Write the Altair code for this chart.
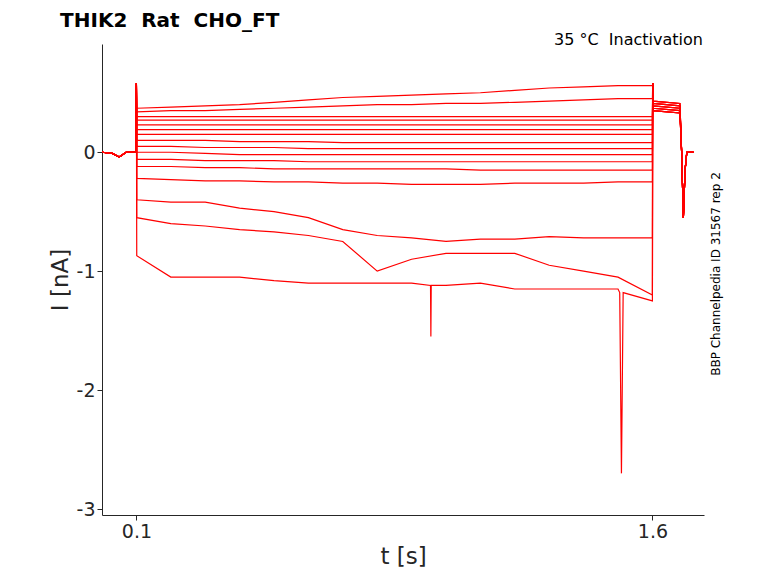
import altair as alt
import pandas as pd

T = [0.1, 0.2, 0.3, 0.4, 0.5, 0.6, 0.7, 0.8, 0.9, 1.0, 1.1, 1.2, 1.3, 1.4, 1.5, 1.6]
sweeps = [
    [0.37,0.38,0.39,0.40,0.42,0.44,0.46,0.47,0.48,0.49,0.50,0.52,0.54,0.55,0.56,0.56],
    [0.34,0.35,0.35,0.36,0.37,0.38,0.39,0.40,0.40,0.41,0.41,0.42,0.43,0.44,0.45,0.45],
    [0.30]*16, [0.27]*16, [0.23]*16, [0.19]*16, [0.15]*16,
    [0.10,0.10,0.10,0.09,0.09,0.09,0.08,0.08,0.08,0.08,0.08,0.08,0.08,0.08,0.08,0.08],
    [0.05,0.05,0.04,0.04,0.04,0.03,0.03,0.03,0.03,0.03,0.03,0.03,0.03,0.03,0.03,0.03],
    [0.0,0.0,-0.01,-0.02,-0.02,-0.02,-0.02,-0.02,-0.02,-0.02,-0.02,-0.02,-0.02,-0.02,-0.02,-0.02],
    [-0.06,-0.06,-0.07,-0.07,-0.07,-0.08,-0.08,-0.08,-0.08,-0.08,-0.08,-0.08,-0.08,-0.08,-0.08,-0.08],
    [-0.12,-0.12,-0.13,-0.13,-0.14,-0.14,-0.14,-0.14,-0.14,-0.14,-0.15,-0.15,-0.15,-0.15,-0.15,-0.15],
    [-0.22,-0.23,-0.24,-0.24,-0.25,-0.25,-0.26,-0.26,-0.27,-0.27,-0.27,-0.26,-0.26,-0.26,-0.25,-0.25],
    [-0.40,-0.42,-0.42,-0.47,-0.50,-0.55,-0.65,-0.70,-0.72,-0.75,-0.73,-0.73,-0.71,-0.72,-0.72,-0.72],
    [-0.55,-0.60,-0.62,-0.65,-0.67,-0.70,-0.75,-1.00,-0.90,-0.85,-0.85,-0.85,-0.95,-1.00,-1.05,-1.20],
    [-0.87,-1.05,-1.05,-1.05,-1.08,-1.10,-1.10,-1.10,-1.10,-1.12,-1.10,-1.15,-1.15,-1.15,-1.15,-1.25],
]
spike_t = [0.955, 0.956, 0.957, 1.505, 1.51, 1.515]
spike_i = [-1.12, -1.55, -1.12, -1.18, -2.7, -1.18]
pre_t = [0.0, 0.03, 0.05, 0.07, 0.099]
pre_i = [0.0, -0.01, -0.04, 0.0, 0.0]
post_t = [1.601, 1.602, 1.68, 1.685, 1.69, 1.695, 1.7, 1.72]
post_i = [0.58, 0.35, 0.33, 0.0, -0.55, -0.15, 0.0, 0.0]

rows = []
for k, vals in enumerate(sweeps):
    pts = list(zip(pre_t, pre_i)) + [(0.1, 0.58)]
    pts += list(zip([t + 0.001 if t == 0.1 else t for t in T], vals))
    if k == len(sweeps) - 1:
        pts += list(zip(spike_t, spike_i))
    pts = sorted(pts, key=lambda p: p[0])
    for j, (t, p) in enumerate(zip(post_t, post_i)):
        pts.append((t, p + 0.02 * (k % 5) if j in (1, 2) else p))
    for o, (t, i) in enumerate(pts):
        rows.append({"s": k, "o": o, "t": t, "i": i})
df = pd.DataFrame(rows)

lines = alt.Chart(df).mark_line(color="#ff0000", strokeWidth=1.2, clip=True).encode(
    x=alt.X("t:Q", scale=alt.Scale(domain=[0.0, 1.75], nice=False),
            axis=alt.Axis(values=[0.1, 1.6], format=".1f", title="t [s]", grid=False)),
    y=alt.Y("i:Q", scale=alt.Scale(domain=[-3.05, 0.91], nice=False),
            axis=alt.Axis(values=[0, -1, -2, -3], labelExpr="toString(datum.value)",
                          title="I [nA]", grid=False)),
    detail="s:N", order="o:Q")

note = alt.Chart(pd.DataFrame({"x": [1.747], "y": [0.94], "txt": ["35 °C\u00a0\u00a0Inactivation"]})).mark_text(
    align="right", fontSize=16, font="DejaVu Sans", color="black").encode(x="x:Q", y="y:Q", text="txt:N")
side = alt.Chart(pd.DataFrame({"txt": ["BBP Channelpedia ID 31567 rep 2"]})).mark_text(
    angle=270, fontSize=12, font="DejaVu Sans", color="black").encode(
    x=alt.value(614), y=alt.value(230), text="txt:N")

chart = (lines + note + side).properties(
    width=602, height=471,
    autosize=alt.AutoSizeParams(type="none"),
    padding={"left": 94, "top": 36, "right": 60, "bottom": 60},
    title=alt.TitleParams("THIK2\u00a0\u00a0Rat\u00a0\u00a0CHO_FT", anchor="start", fontSize=20,
                          font="DejaVu Sans", fontWeight="bold", offset=1, dx=11),
).configure_axis(
    labelFont="DejaVu Sans", titleFont="DejaVu Sans", labelFontSize=19, titleFontSize=23,
    titleFontWeight="normal", labelColor="#262626", tickSize=5,
    titleColor="#262626", domainColor="#262626", tickColor="#262626"
).configure_view(stroke=None)

chart.save("out.html", embed_options={"renderer": "svg", "actions": False})
